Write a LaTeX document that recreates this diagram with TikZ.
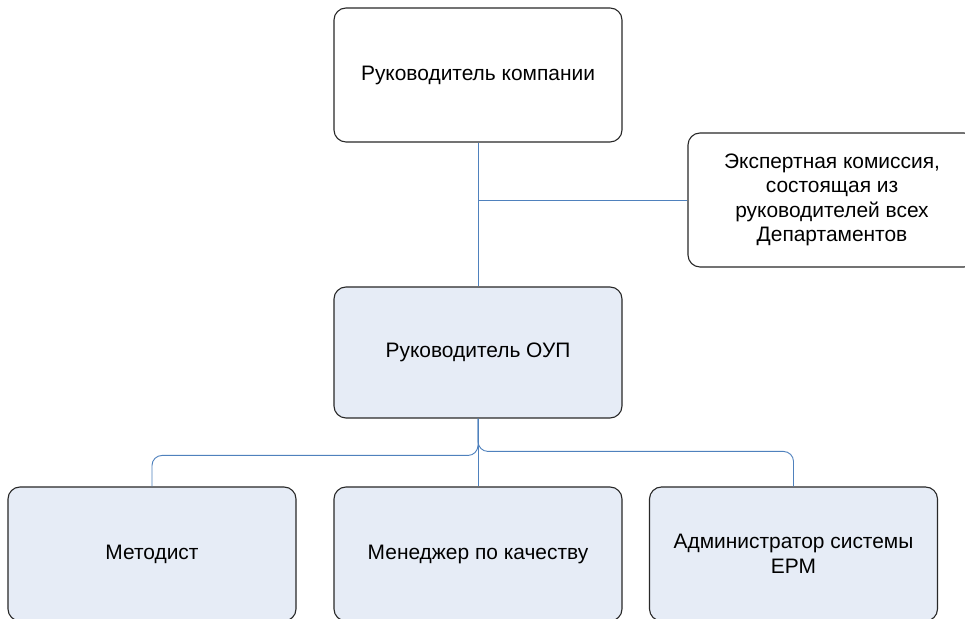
\documentclass[tikz,border=0pt]{standalone}
\usepackage{fontspec}
\setmainfont{Liberation Sans}
\usetikzlibrary{calc}
\definecolor{boxfill}{RGB}{230,236,246}
\definecolor{conncol}{RGB}{79,129,189}
\definecolor{boxline}{RGB}{40,40,40}
\tikzset{
  box/.style={draw=boxline, line width=1.1bp, rounded corners=12bp, minimum width=288bp, minimum height=134bp, align=center, inner sep=2bp, font=\fontsize{21}{24.5}\selectfont, text=black},
  whitebox/.style={box, fill=white},
  bluebox/.style={box, fill=boxfill},
  conn/.style={draw=conncol, line width=0.9bp}
}
\begin{document}
\begin{tikzpicture}[x=1bp, y=1bp]
\useasboundingbox (0,0) rectangle (965,619);
\clip (0,0) rectangle (965,619);
\fill[white] (0,0) rectangle (965,619);
\node[whitebox] (top) at (478,544) {Руководитель компании};
\node[whitebox] (exp) at (832,419) {Экспертная комиссия,\\состоящая из\\руководителей всех\\Департаментов};
\node[bluebox, minimum height=131bp] (mid) at (478,266.5) {Руководитель ОУП};
\node[bluebox] (bl) at (152,65) {Методист};
\node[bluebox] (bm) at (478,65) {Менеджер по качеству};
\node[bluebox] (br) at (793.5,65) {Администратор системы\\ЕРМ};
\coordinate (j) at (top.south |- exp.west);
\coordinate (lh) at ($(bl.north)+(0,31)$);
\coordinate (rh) at ($(br.north)+(0,35)$);
\draw[conn] (top.south) -- (mid.north);
\draw[conn] (j) -- (exp.west);
\draw[conn] (mid.south) -- (bm.north);
\draw[conn, rounded corners=10bp] (mid.south) |- (lh) -- (bl.north);
\draw[conn, rounded corners=10bp] (mid.south) |- (rh) -- (br.north);
\end{tikzpicture}
\end{document}
